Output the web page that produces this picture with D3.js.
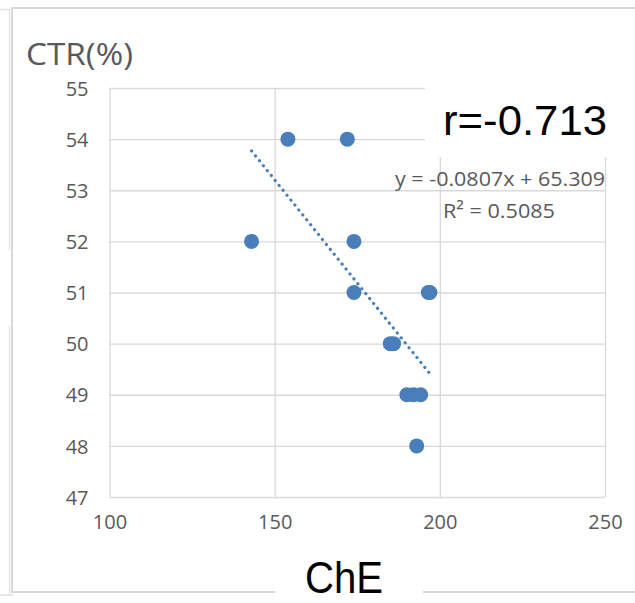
<!DOCTYPE html>
<html>
<head>
<meta charset="utf-8">
<script src="https://cdn.jsdelivr.net/npm/d3@7/dist/d3.min.js"></script>
<style>
  html, body { margin: 0; padding: 0; background: #fff; }
  svg { display: block; }
</style>
</head>
<body>
<svg id="chart" width="635" height="603"></svg>
<script>
// ChE vs CTR(%) observations
const cheValues = [154, 172, 143, 174, 174, 196.5, 197, 185, 186, 190, 192, 194.2, 193];
const ctrValues = [54, 54, 52, 52, 51, 51, 51, 50, 50, 49, 49, 49, 48];

// Axis ticks
const xTicks = [100, 150, 200, 250];
const yTicks = [47, 48, 49, 50, 51, 52, 53, 54, 55];

// Linear trendline as reported on the chart
const slope = -0.0807;
const intercept = 65.309;
const rSquared = 0.5085;
const rValue = -0.713;

const svg = d3.select("#chart");
const W = 635, H = 603;
const plot = { left: 109.5, right: 605, top: 88, bottom: 497 };

const x = d3.scaleLinear().domain([100, 250]).range([plot.left, plot.right]);
const y = d3.scaleLinear().domain([47, 55]).range([plot.bottom, plot.top]);

const grid = "#d9d9d9";
const textGrey = "#595959";
const pointColor = "#4a7ebb";
const baseFont = "'Open Sans', 'Noto Sans', sans-serif";
const plainFont = "'Liberation Sans', Arial, sans-serif";

svg.append("rect").attr("width", W).attr("height", H).attr("fill", "#fff");

// neighbouring frame edge on the far left
const edge = svg.append("g").attr("stroke", "#e2e2e2").attr("stroke-width", 1.3).attr("fill", "none");
edge.append("path").attr("d", "M0,9.5H9.5V250");
edge.append("path").attr("d", "M9.5,326V595H0");
edge.append("path").attr("d", "M9.5,595H14");

// chart frame, broken by the x-axis title
const frame = svg.append("g").attr("stroke", "#d9d9d9").attr("stroke-width", 2).attr("fill", "none");
frame.append("path").attr("d", `M${W + 2},8H12V592H275`);
frame.append("path").attr("d", `M423,592H${W + 2}`);

// gridlines
const gx = svg.append("g")
  .attr("transform", `translate(0,${plot.bottom})`)
  .call(d3.axisBottom(x).tickValues(xTicks).tickSize(-(plot.bottom - plot.top)).tickFormat(""));
gx.select(".domain").remove();
gx.selectAll("line").attr("stroke", grid).attr("stroke-width", 1.3);

const gy = svg.append("g")
  .attr("transform", `translate(${plot.left},0)`)
  .call(d3.axisLeft(y).tickValues(yTicks).tickSize(-(plot.right - plot.left)).tickFormat(""));
gy.select(".domain").remove();
gy.selectAll("line").attr("stroke", grid).attr("stroke-width", 1.3);

// tick labels
const xl = svg.append("g")
  .attr("transform", `translate(0,${plot.bottom})`)
  .call(d3.axisBottom(x).tickValues(xTicks).tickSize(0).tickPadding(14).tickFormat(d3.format("d")));
xl.select(".domain").remove();
xl.selectAll("text")
  .attr("fill", textGrey).attr("font-family", baseFont).attr("font-size", 20)
  .attr("dy", "0.88em");

const yl = svg.append("g")
  .attr("transform", `translate(${plot.left},0)`)
  .call(d3.axisLeft(y).tickValues(yTicks).tickSize(0).tickPadding(21).tickFormat(d3.format("d")));
yl.select(".domain").remove();
yl.selectAll("text")
  .attr("fill", textGrey).attr("font-family", baseFont).attr("font-size", 20)
  .attr("dy", "0.36em");

// y-axis title
svg.append("text")
  .attr("x", 26).attr("y", 65)
  .attr("fill", textGrey).attr("font-family", baseFont).attr("font-size", 31)
  .attr("textLength", 107).attr("lengthAdjust", "spacingAndGlyphs")
  .text("CTR(%)");

// correlation label box covers the grid beneath it
svg.append("rect")
  .attr("x", 425).attr("y", 84).attr("width", W - 425).attr("height", 73)
  .attr("fill", "#fff");
svg.append("text")
  .attr("x", 443).attr("y", 135)
  .attr("fill", "#000").attr("font-family", plainFont).attr("font-size", 43)
  .attr("textLength", 164).attr("lengthAdjust", "spacingAndGlyphs")
  .text(`r=${rValue.toFixed(3)}`);

// points
svg.append("g")
  .selectAll("circle")
  .data(cheValues.map((v, i) => [v, ctrValues[i]]))
  .join("circle")
  .attr("cx", d => x(d[0]))
  .attr("cy", d => y(d[1]))
  .attr("r", 7.5)
  .attr("fill", pointColor);

// dotted trendline over the observed ChE range
const [xMin, xMax] = d3.extent(cheValues);
svg.append("line")
  .attr("x1", x(xMin)).attr("y1", y(slope * xMin + intercept))
  .attr("x2", x(xMax)).attr("y2", y(slope * xMax + intercept))
  .attr("stroke", pointColor).attr("stroke-width", 3.2)
  .attr("stroke-linecap", "round").attr("stroke-dasharray", "0.1 6.2");

// trendline equation
const eq = svg.append("g").attr("fill", textGrey).attr("font-family", baseFont).attr("font-size", 20);
eq.append("text")
  .attr("x", 500).attr("y", 186).attr("text-anchor", "middle")
  .attr("textLength", 210).attr("lengthAdjust", "spacingAndGlyphs")
  .text(`y = ${slope}x + ${intercept}`);
eq.append("text")
  .attr("x", 499).attr("y", 218).attr("text-anchor", "middle")
  .attr("textLength", 112).attr("lengthAdjust", "spacingAndGlyphs")
  .text(`R² = ${rSquared}`);

// x-axis title
svg.append("text")
  .attr("x", 344).attr("y", 593)
  .attr("text-anchor", "middle")
  .attr("fill", "#000").attr("font-family", plainFont).attr("font-size", 44)
  .attr("textLength", 78).attr("lengthAdjust", "spacingAndGlyphs")
  .text("ChE");
</script>
</body>
</html>
